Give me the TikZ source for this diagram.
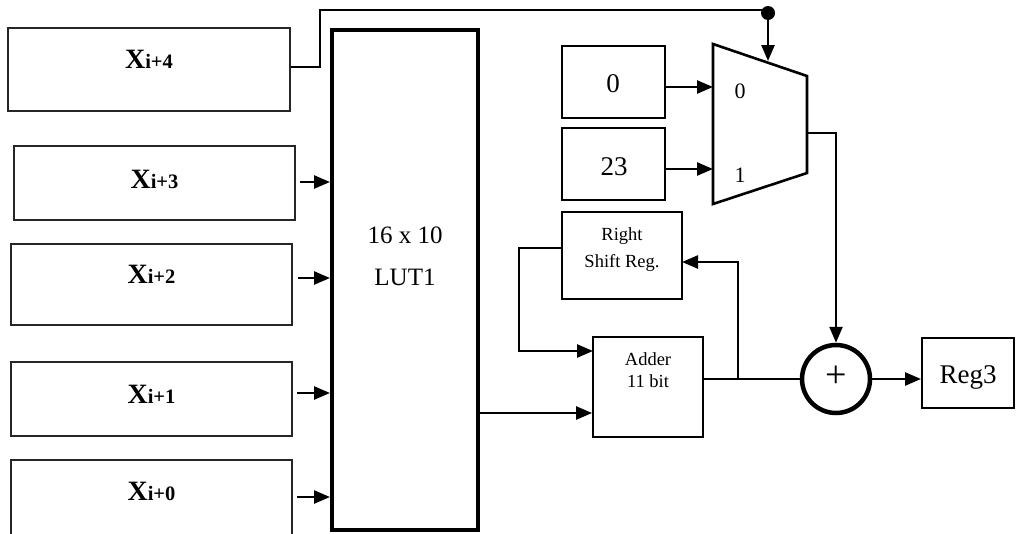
\documentclass[tikz,border=0pt]{standalone}
\usepackage{fontspec}
\setmainfont{Liberation Serif}
\usetikzlibrary{arrows.meta}
\newcommand\xlab[1]{{\fontsize{28}{28}\selectfont\bfseries X}{\fontsize{20.5}{20.5}\selectfont\bfseries i+#1}}
\begin{document}
\begin{tikzpicture}[x=1pt,y=-1pt,
  xbox/.style={draw=black!85, line width=1.2pt, rectangle, inner sep=0pt},
  blk/.style={draw, line width=2pt, rectangle, inner sep=0pt},
  wire/.style={line width=2.5pt},
  arr/.style={wire, -{Triangle[length=16pt,width=13pt]}},
  txt/.style={anchor=base, inner sep=0pt},
  big/.style={font=\fontsize{27}{27}\selectfont},
  mid/.style={font=\fontsize{25}{25}\selectfont},
  sml/.style={font=\fontsize{18.5}{18.5}\selectfont},
  mlab/.style={font=\fontsize{22}{22}\selectfont}
]
\useasboundingbox (0,0) rectangle (1016,533);

% input boxes
\node[xbox, minimum width=282, minimum height=83] (x4) at (149,69.5) {};
\node[xbox, minimum width=281, minimum height=74] (x3) at (154.5,183) {};
\node[xbox, minimum width=281, minimum height=81] (x2) at (151.5,284.5) {};
\node[xbox, minimum width=281, minimum height=74] (x1) at (151.5,399) {};
\draw[draw=black!85, line width=1.2pt] (11,540) -- (11,460) -- (292,460) -- (292,540);
\node[txt] (t4) at (149,68) {\xlab{4}};
\node[txt] (t3) at (154.5,188) {\xlab{3}};
\node[txt] (t2) at (151.5,283) {\xlab{2}};
\node[txt] (t1) at (151.5,403) {\xlab{1}};
\node[txt] (t0) at (151.5,500) {\xlab{0}};

% LUT
\node[draw, line width=4pt, rectangle, minimum width=146, minimum height=500, inner sep=0pt] (lut) at (405,280) {};
\node[txt, mid] (lt1) at (405,243) {16 x 10};
\node[txt, mid] (lt2) at (405,285) {LUT1};

\coordinate (a3) at (300,182);
\coordinate (a2) at (298,278);
\coordinate (a1) at (297,393);
\coordinate (a0) at (297,497);
\draw[arr] (a3) -- (a3 -| lut.west);
\draw[arr] (a2) -- (a2 -| lut.west);
\draw[arr] (a1) -- (a1 -| lut.west);
\draw[arr] (a0) -- (a0 -| lut.west);

% constant boxes
\node[blk, minimum width=103, minimum height=72] (c0) at (613.5,82) {};
\node[blk, minimum width=103, minimum height=72] (c23) at (613.5,164) {};
\node[txt, big] (c0t) at (613,92) {0};
\node[txt, big] (c23t) at (614,175) {23};

% mux
\coordinate (m1) at (713,44);
\coordinate (m2) at (807,76);
\coordinate (m3) at (807,173);
\coordinate (m4) at (713,204);
\draw[line width=2.6pt, line join=miter] (m1) -- (m2) -- (m3) -- (m4) -- cycle;
\node[txt, mlab] (ml0) at (740,98) {0};
\node[txt, mlab] (ml1) at (740,182) {1};
\coordinate (in0) at (713,87);
\coordinate (in1) at (713,169);
\draw[arr] (c0.east |- in0) -- (in0);
\draw[arr] (c23.east |- in1) -- (in1);

% select line from X_{i+4}
\node[circle, fill=black, minimum size=14, inner sep=0pt] (dot) at (768,13) {};
\coordinate (sel) at (768,61);
\draw[wire] (x4.east |- 0,67) -- (320,67) -- (320,10) -- (768,10);
\draw[arr] (dot.center) -- (sel);

% right shift register and adder
\node[blk, line width=1.8pt, minimum width=120, minimum height=87] (rsr) at (622,255.5) {};
\node[txt, sml] (r1) at (622,240) {Right};
\node[txt, sml] (r2) at (622,267) {Shift Reg.};
\node[blk, line width=1.8pt, minimum width=110, minimum height=100] (add) at (648,387) {};
\node[txt, sml] (d1) at (648,365) {Adder};
\node[txt, sml] (d2) at (648,387) {11 bit};

% summation and output register
\node[circle, draw, line width=4.5pt, minimum size=68, inner sep=0pt] (sum) at (836,379) {};
\node[font=\fontsize{38}{38}\selectfont, inner sep=0pt] (plus) at (836,377) {+};
\node[blk, minimum width=92, minimum height=70] (reg) at (968,373) {};
\node[txt, big] (regt) at (968,383) {Reg3};

% connections
\coordinate (mo) at (807,133);
\draw[arr] (mo) -- (mo -| sum.north) -- (sum.north);
\draw[wire] (add.east |- sum.west) -- (sum.west);
\coordinate (br) at (738,379);
\coordinate (rin) at (682,262);
\draw[arr] (br) |- (rin);
\coordinate (rout) at (562,248);
\coordinate (ain1) at (593,351);
\draw[arr] (rout) -- (519,248) |- (ain1);
\coordinate (lo) at (478,413);
\draw[arr] (lo) -- (lo -| add.west);
\draw[arr] (sum.east) -- (sum.east -| reg.west);
\end{tikzpicture}
\end{document}
